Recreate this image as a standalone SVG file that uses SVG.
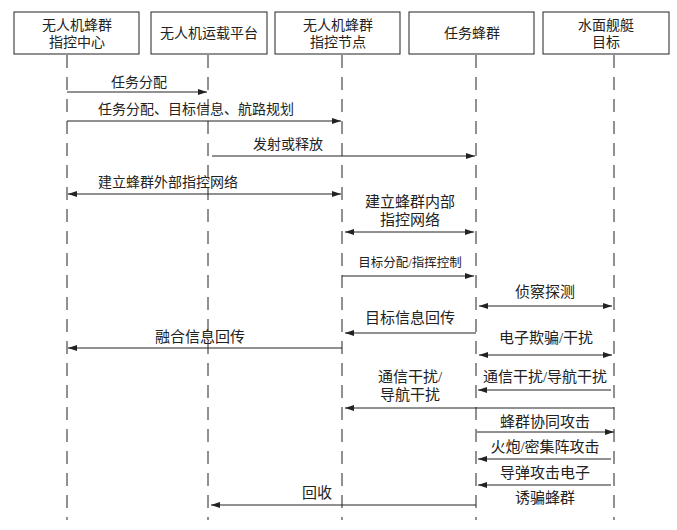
<svg xmlns="http://www.w3.org/2000/svg" width="677" height="530" viewBox="0 0 677 530">
<style>
.box{fill:#fff;stroke:#222;stroke-width:1}
.life{stroke:#222;stroke-width:1;stroke-dasharray:13 9;fill:none}
.msg{stroke:#222;stroke-width:1;fill:none;marker-end:url(#ah)}
.dbl{stroke:#222;stroke-width:1;fill:none;marker-end:url(#ah);marker-start:url(#ah)}
text{font-family:"Liberation Serif","Noto Sans CJK SC",serif;fill:#222;text-anchor:middle}
.bt{font-size:14px}
.lt{font-size:15px}
</style>
<defs>
<marker id="ah" markerUnits="userSpaceOnUse" markerWidth="9" markerHeight="6" refX="9" refY="3" orient="auto-start-reverse">
<path d="M0,0 L9,3 L0,6 z" fill="#222"/>
</marker>
</defs>
<g id="node-center">
<rect class="box" x="14" y="12" width="125" height="42"/>
<text class="bt" x="77" y="30">无人机蜂群</text>
<text class="bt" x="77" y="47">指控中心</text>
</g>
<g id="node-carrier">
<rect class="box" x="151" y="12" width="116" height="42"/>
<text class="bt" x="209" y="38">无人机运载平台</text>
</g>
<g id="node-node">
<rect class="box" x="275" y="12" width="125" height="42"/>
<text class="bt" x="338" y="30">无人机蜂群</text>
<text class="bt" x="338" y="47">指控节点</text>
</g>
<g id="node-swarm">
<rect class="box" x="409" y="12" width="125" height="42"/>
<text class="bt" x="472" y="38">任务蜂群</text>
</g>
<g id="node-target">
<rect class="box" x="543" y="12" width="126" height="42"/>
<text class="bt" x="606" y="30">水面舰艇</text>
<text class="bt" x="606" y="47">目标</text>
</g>
<g id="lifelines">
<line class="life" x1="67" y1="55" x2="67" y2="520"/>
<line class="life" x1="208" y1="55" x2="208" y2="520"/>
<line class="life" x1="342" y1="55" x2="342" y2="520"/>
<line class="life" x1="476" y1="55" x2="476" y2="520"/>
<line class="life" x1="614" y1="55" x2="614" y2="520"/>
</g>
<g id="connectors">
<line class="msg" x1="67" y1="92" x2="207" y2="92"/>
<line class="msg" x1="67" y1="121" x2="341" y2="121"/>
<line class="msg" x1="212" y1="156" x2="475" y2="156"/>
<line class="dbl" x1="68" y1="194" x2="341" y2="194"/>
<line class="dbl" x1="345" y1="232" x2="474" y2="232"/>
<line class="msg" x1="342" y1="276" x2="474" y2="276"/>
<line class="dbl" x1="479" y1="306" x2="612" y2="306"/>
<line class="msg" x1="476" y1="333" x2="345" y2="333"/>
<line class="msg" x1="342" y1="348" x2="68" y2="348"/>
<line class="dbl" x1="479" y1="355" x2="612" y2="355"/>
<line class="msg" x1="611" y1="390" x2="478" y2="390"/>
<line class="msg" x1="614" y1="408" x2="345" y2="408"/>
<line class="msg" x1="477" y1="432" x2="614" y2="432"/>
<line class="msg" x1="611" y1="459" x2="478" y2="459"/>
<line class="msg" x1="611" y1="485" x2="478" y2="485"/>
<line class="msg" x1="476" y1="505" x2="211" y2="505"/>
</g>
<g id="labels">
<text class="lt" x="139" y="87" style="font-size:14px">任务分配</text>
<text class="lt" x="196" y="114" style="font-size:14px">任务分配、目标信息、航路规划</text>
<text class="lt" x="288" y="149" style="font-size:14px">发射或释放</text>
<text class="lt" x="168" y="187" style="font-size:14px">建立蜂群外部指控网络</text>
<text class="lt" x="410" y="207">建立蜂群内部</text>
<text class="lt" x="410" y="225">指控网络</text>
<text class="lt" x="410" y="267" style="font-size:12.5px">目标分配/指挥控制</text>
<text class="lt" x="545" y="297">侦察探测</text>
<text class="lt" x="410" y="323">目标信息回传</text>
<text class="lt" x="200" y="342">融合信息回传</text>
<text class="lt" x="546" y="343">电子欺骗/干扰</text>
<text class="lt" x="545" y="382">通信干扰/导航干扰</text>
<text class="lt" x="410" y="382">通信干扰/</text>
<text class="lt" x="410" y="400">导航干扰</text>
<text class="lt" x="545" y="427">蜂群协同攻击</text>
<text class="lt" x="545" y="452">火炮/密集阵攻击</text>
<text class="lt" x="545" y="478">导弹攻击电子</text>
<text class="lt" x="545" y="503">诱骗蜂群</text>
<text class="lt" x="317" y="498">回收</text>
</g>
</svg>
